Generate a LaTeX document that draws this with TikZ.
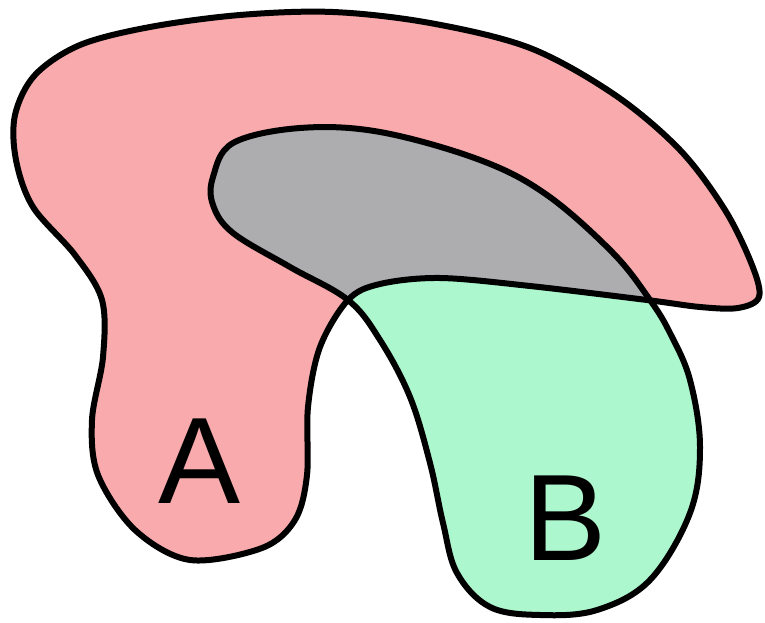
\documentclass[tikz,border=0pt]{standalone}
\usepackage{fontspec}
\setmainfont{Liberation Sans}
\definecolor{pinkA}{RGB}{248,170,172}
\definecolor{greenB}{RGB}{173,247,206}
\definecolor{grayAB}{RGB}{173,173,175}
\tikzset{
  outline/.style={draw=black, line width=6pt, line join=round},
  setlabel/.style={anchor=base, inner sep=0pt, font=\fontsize{123}{123}\selectfont}
}
\def\pathA{plot[smooth cycle, tension=0.55] coordinates{(333,12) (430,23) (530,48) (615,95) (680,150) (725,210) (752,265) (759,297) (738,308) (700,307) (647,300) (530,286) (440,278) (380,284) (348,300) (320,347) (308,407) (307,475) (295,520) (262,548) (190,560) (135,530) (98,475) (92,420) (103,357) (102,300) (75,255) (33,207) (16,160) (15,115) (35,75) (80,45) (150,27) (240,15)}}
\def\pathB{plot[smooth cycle, tension=0.6] coordinates{(233,143) (300,128) (380,132) (480,160) (547,195) (613,253) (650,300) (670,333) (690,380) (700,447) (690,513) (650,580) (597,610) (540,615) (490,607) (457,573) (443,523) (430,463) (410,397) (380,340) (348,300) (290,267) (233,233) (213,205) (213,177)}}
\begin{document}
\begin{tikzpicture}[x=1pt,y=-1pt]
\useasboundingbox (0,0) rectangle (765,623);
\fill[pinkA] \pathA;
\fill[greenB] \pathB;
\begin{scope}
  \clip \pathA;
  \fill[grayAB] \pathB;
\end{scope}
\draw[outline] \pathA;
\draw[outline] \pathB;
\node[setlabel] (A) at (200,503) {A};
\node[setlabel] (B) at (566,560) {B};
\end{tikzpicture}
\end{document}
